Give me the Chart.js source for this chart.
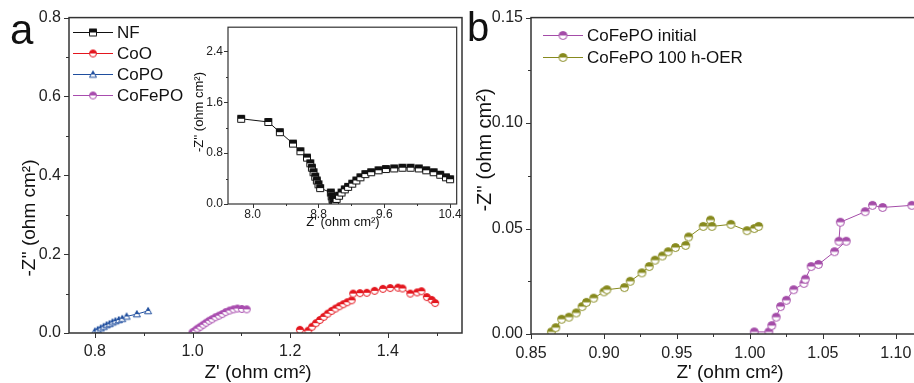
<!DOCTYPE html>
<html>
<head>
<meta charset="utf-8">
<script src="https://cdn.jsdelivr.net/npm/chart.js@4.4.1/dist/chart.umd.min.js"></script>
<style>
  html, body { margin: 0; padding: 0; background: #fff; overflow: hidden; width: 914px; height: 383px; }
  canvas { position: absolute; }
  #chartA { left: 0; top: 0; }
  #inset { left: 180px; top: 15px; }
  #chartB { left: 465px; top: 0; }
</style>
</head>
<body>
<canvas id="chartA" width="470" height="383"></canvas>
<canvas id="inset" width="285" height="220"></canvas>
<canvas id="chartB" width="470" height="383"></canvas>
<script>
// panel a series names
const namesA = ["NF", "CoO", "CoPO", "CoFePO"];
const namesB = ["CoFePO initial", "CoFePO 100 h-OER"];

// NF (inset only)
const nfX = [7.86, 8.19, 8.33, 8.49, 8.58, 8.66, 8.70, 8.72, 8.74, 8.76, 8.78, 8.80, 8.82, 8.95, 8.96, 8.97, 8.98, 8.99, 9.00, 9.02, 9.05, 9.08, 9.12, 9.16, 9.21, 9.26, 9.31, 9.37, 9.44, 9.53, 9.62, 9.72, 9.82, 9.92, 10.02, 10.11, 10.20, 10.28, 10.35, 10.40];
const nfY = [1.34, 1.29, 1.13, 0.95, 0.83, 0.73, 0.64, 0.57, 0.50, 0.43, 0.37, 0.31, 0.25, 0.18, 0.12, 0.07, 0.03, 0.00, 0.02, 0.08, 0.13, 0.18, 0.23, 0.27, 0.32, 0.37, 0.42, 0.47, 0.50, 0.53, 0.55, 0.56, 0.57, 0.57, 0.56, 0.53, 0.50, 0.46, 0.42, 0.39];

const cooX = [1.220, 1.237, 1.245, 1.253, 1.261, 1.269, 1.277, 1.285, 1.293, 1.301, 1.309, 1.317, 1.326, 1.329, 1.343, 1.357, 1.373, 1.390, 1.405, 1.421, 1.430, 1.446, 1.460, 1.469, 1.480, 1.490, 1.497];
const cooY = [0.008, 0.006, 0.016, 0.025, 0.033, 0.041, 0.049, 0.056, 0.062, 0.068, 0.073, 0.078, 0.083, 0.100, 0.101, 0.102, 0.107, 0.112, 0.114, 0.115, 0.113, 0.100, 0.103, 0.106, 0.091, 0.084, 0.076];

const copoX = [0.800, 0.806, 0.812, 0.818, 0.824, 0.830, 0.836, 0.842, 0.849, 0.856, 0.865, 0.886, 0.909];
const copoY = [0.004, 0.008, 0.012, 0.016, 0.020, 0.023, 0.027, 0.030, 0.033, 0.036, 0.042, 0.048, 0.056];

const cofepoX = [1.000, 1.005, 1.010, 1.016, 1.022, 1.028, 1.034, 1.040, 1.047, 1.054, 1.061, 1.068, 1.076, 1.084, 1.092, 1.101, 1.111];
const cofepoY = [0.002, 0.006, 0.011, 0.016, 0.021, 0.026, 0.031, 0.035, 0.040, 0.044, 0.048, 0.053, 0.057, 0.060, 0.062, 0.061, 0.060];

// panel b
const initX = [1.003, 1.013, 1.015, 1.018, 1.021, 1.025, 1.030, 1.037, 1.038, 1.042, 1.047, 1.058, 1.066, 1.061, 1.062, 1.079, 1.084, 1.091, 1.111];
const initY = [0.001, 0.001, 0.004, 0.008, 0.013, 0.016, 0.021, 0.024, 0.026, 0.032, 0.033, 0.039, 0.044, 0.044, 0.053, 0.058, 0.061, 0.060, 0.061];

const oerX = [0.864, 0.867, 0.871, 0.876, 0.881, 0.885, 0.888, 0.893, 0.900, 0.902, 0.914, 0.918, 0.926, 0.931, 0.935, 0.940, 0.944, 0.949, 0.956, 0.958, 0.968, 0.973, 0.974, 0.987, 0.998, 1.003, 1.006];
const oerY = [0.001, 0.003, 0.007, 0.008, 0.010, 0.013, 0.015, 0.017, 0.020, 0.021, 0.022, 0.025, 0.029, 0.032, 0.035, 0.037, 0.039, 0.041, 0.042, 0.046, 0.051, 0.054, 0.051, 0.052, 0.049, 0.050, 0.051];

const FONT = "'Liberation Sans', Arial, sans-serif";
Chart.defaults.font.family = FONT;
Chart.defaults.color = "#222";

// half filled marker images
function marker(shape, color, size) {
  const c = document.createElement("canvas");
  c.width = c.height = size + 3;
  const g = c.getContext("2d");
  const m = (size + 3) / 2, r = size / 2;
  const path = () => {
    g.beginPath();
    if (shape === "circle") g.arc(m, m, r, 0, Math.PI * 2);
    else if (shape === "rect") g.rect(m - r, m - r, size, size);
    else { g.moveTo(m, m - r); g.lineTo(m + r, m + r * 0.8); g.lineTo(m - r, m + r * 0.8); g.closePath(); }
  };
  path(); g.fillStyle = "#fff"; g.fill();
  g.save(); g.beginPath(); g.rect(0, 0, c.width, m); g.clip();
  path(); g.fillStyle = color; g.fill(); g.restore();
  path(); g.strokeStyle = color; g.lineWidth = 1; g.stroke();
  return c;
}

function pts(xs, ys) {
  return xs.map((x, i) => ({ x: x, y: ys[i] }));
}

function series(label, xs, ys, color, mk) {
  return {
    label: label,
    data: pts(xs, ys),
    showLine: true,
    borderColor: color,
    borderWidth: 1,
    pointStyle: mk,
    pointRadius: 4,
    tension: 0
  };
}

function axis(min, max, step, major, digits, size, pad, fit, isY) {
  return {
    type: "linear",
    min: min,
    max: max,
    grid: { display: false, drawTicks: false },
    border: { display: false },
    ticks: {
      stepSize: step,
      includeBounds: false,
      autoSkip: false,
      maxRotation: 0,
      padding: pad,
      font: { size: size },
      color: "#222",
      callback: (v) => {
        const q = v / major;
        return Math.abs(q - Math.round(q)) < 1e-6 ? Number(v).toFixed(digits) : "";
      }
    },
    afterFit: (s) => {
      if (isY) s.width = fit; else s.height = fit;
    }
  };
}

const framePlugin = {
  id: "frame",
  afterDraw(chart, args, o) {
    const a = chart.chartArea, ctx = chart.ctx;
    ctx.save();
    ctx.strokeStyle = "#333";
    ctx.lineWidth = o.width || 1.5;
    ctx.strokeRect(a.left, a.top, a.right - a.left, a.bottom - a.top);
    ctx.restore();
  }
};

const tickPlugin = {
  id: "tickMarks",
  afterDraw(chart, args, o) {
    const ctx = chart.ctx;
    ctx.save();
    ctx.strokeStyle = "#333";
    ctx.lineWidth = 1;
    Object.values(chart.scales).forEach((s) => {
      s.ticks.forEach((t) => {
        const len = t.label === "" ? o.minor : o.major;
        const p = Math.round(s.getPixelForValue(t.value)) + 0.5;
        ctx.beginPath();
        if (s.isHorizontal()) { ctx.moveTo(p, s.top); ctx.lineTo(p, s.top + len); }
        else { ctx.moveTo(s.right, p); ctx.lineTo(s.right - len, p); }
        ctx.stroke();
      });
    });
    ctx.restore();
  }
};

const textPlugin = {
  id: "texts",
  afterDraw(chart, args, o) {
    const ctx = chart.ctx;
    (o.items || []).forEach((it) => {
      ctx.save();
      ctx.fillStyle = "#111";
      ctx.font = it.size + "px " + FONT;
      ctx.textAlign = it.align || "center";
      ctx.textBaseline = it.base || "middle";
      ctx.translate(it.x, it.y);
      if (it.rot) ctx.rotate(it.rot);
      ctx.fillText(it.text, 0, 0);
      ctx.restore();
    });
  }
};

const legendPlugin = {
  id: "legendBox",
  afterDraw(chart, args, o) {
    const ctx = chart.ctx;
    (o.items || []).forEach((it, i) => {
      const y = o.y + i * o.dy;
      ctx.save();
      ctx.strokeStyle = it.color;
      ctx.lineWidth = 1.2;
      ctx.beginPath();
      ctx.moveTo(o.x, y + 0.5);
      ctx.lineTo(o.x + o.len, y + 0.5);
      ctx.stroke();
      ctx.drawImage(it.marker, o.x + o.len / 2 - it.marker.width / 2, y - it.marker.height / 2 + 0.5);
      ctx.fillStyle = "#111";
      ctx.font = o.size + "px " + FONT;
      ctx.textBaseline = "middle";
      ctx.textAlign = "left";
      ctx.fillText(it.label, o.x + o.len + 4, y + 1);
      ctx.restore();
    });
  }
};

const colors = { nf: "#111111", coo: "#e3161e", copo: "#1f4e9e", cofepo: "#a84cae", init: "#a44ca8", oer: "#878a1e" };

const mkNF = marker("rect", colors.nf, 7);
const mkCoO = marker("circle", colors.coo, 7);
const mkCoPO = marker("tri", colors.copo, 7);
const mkCoFePO = marker("circle", colors.cofepo, 7);
const mkInit = marker("circle", colors.init, 8);
const mkOer = marker("circle", colors.oer, 8);

const base = {
  responsive: false,
  animation: false,
  events: [],
  plugins: { legend: { display: false }, tooltip: { enabled: false } }
};

new Chart(document.getElementById("chartA"), {
  type: "scatter",
  data: {
    datasets: [
      series(namesA[1], cooX, cooY, colors.coo, mkCoO),
      series(namesA[2], copoX, copoY, colors.copo, mkCoPO),
      series(namesA[3], cofepoX, cofepoY, colors.cofepo, mkCoFePO)
    ]
  },
  options: Object.assign({}, base, {
    layout: { padding: { top: 15, right: 8, left: 0, bottom: 0 } },
    scales: {
      x: axis(0.747, 1.552, 0.1, 0.2, 1, 16, 9, 50, false),
      y: axis(0, 0.8, 0.1, 0.2, 1, 16, 8, 69, true)
    },
    plugins: Object.assign({}, base.plugins, {
      tickMarks: { major: 5, minor: 3 },
      texts: {
        items: [
          { text: "a", x: 10, y: 44, size: 42, align: "left", base: "alphabetic" },
          { text: "Z' (ohm cm²)", x: 258, y: 373, size: 19 },
          { text: "-Z'' (ohm cm²)", x: 30, y: 218, size: 19, rot: -Math.PI / 2 }
        ]
      },
      legendBox: {
        x: 73, y: 32, dy: 21, len: 40, size: 17,
        items: [
          { label: namesA[0], color: colors.nf, marker: mkNF },
          { label: namesA[1], color: colors.coo, marker: mkCoO },
          { label: namesA[2], color: colors.copo, marker: mkCoPO },
          { label: namesA[3], color: colors.cofepo, marker: mkCoFePO }
        ]
      }
    })
  }),
  plugins: [framePlugin, tickPlugin, textPlugin, legendPlugin]
});

new Chart(document.getElementById("inset"), {
  type: "scatter",
  data: { datasets: [series(namesA[0], nfX, nfY, colors.nf, mkNF)] },
  options: Object.assign({}, base, {
    layout: { padding: { top: 8, right: 8, left: 0, bottom: 0 } },
    scales: {
      x: axis(7.70, 10.48, 0.4, 0.8, 1, 12, 3, 31, false),
      y: axis(0, 2.78, 0.4, 0.8, 1, 12, 5, 48, true)
    },
    plugins: Object.assign({}, base.plugins, {
      frame: { width: 1.2 },
      tickMarks: { major: 4, minor: 2 },
      texts: {
        items: [
          { text: "Z' (ohm cm²)", x: 163, y: 207, size: 13 },
          { text: "-Z'' (ohm cm²)", x: 19, y: 97, size: 13, rot: -Math.PI / 2 }
        ]
      }
    })
  }),
  plugins: [framePlugin, tickPlugin, textPlugin]
});

new Chart(document.getElementById("chartB"), {
  type: "scatter",
  data: {
    datasets: [
      series(namesB[0], initX, initY, colors.init, mkInit),
      series(namesB[1], oerX, oerY, colors.oer, mkOer)
    ]
  },
  options: Object.assign({}, base, {
    layout: { padding: { top: 15, right: 10, left: 0, bottom: 0 } },
    scales: {
      x: axis(0.85, 1.12, 0.025, 0.05, 2, 16, 10, 49, false),
      y: axis(0, 0.15, 0.025, 0.05, 2, 16, 8, 66, true)
    },
    plugins: Object.assign({}, base.plugins, {
      tickMarks: { major: 5, minor: 3 },
      texts: {
        items: [
          { text: "b", x: 2, y: 41, size: 40, align: "left", base: "alphabetic" },
          { text: "Z' (ohm cm²)", x: 265, y: 373, size: 19 },
          { text: "-Z'' (ohm cm²)", x: 20, y: 150, size: 20, rot: -Math.PI / 2 }
        ]
      },
      legendBox: {
        x: 78, y: 35, dy: 22, len: 40, size: 17,
        items: [
          { label: namesB[0], color: colors.init, marker: mkInit },
          { label: namesB[1], color: colors.oer, marker: mkOer }
        ]
      }
    })
  }),
  plugins: [framePlugin, tickPlugin, textPlugin, legendPlugin]
});
</script>
</body>
</html>
